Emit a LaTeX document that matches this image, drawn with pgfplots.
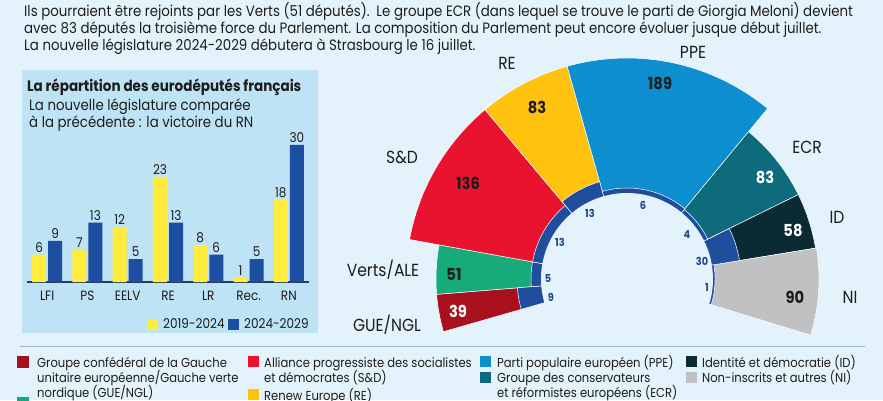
\documentclass[border=0pt]{standalone}
\usepackage{fontspec}
\setmainfont{Poppins}[FakeStretch=0.89]
\usepackage{pgfplots}
\pgfplotsset{compat=1.18}
\definecolor{bg}{HTML}{E4F3FB}
\definecolor{panel}{HTML}{BEE3F5}
\definecolor{byel}{HTML}{FFEC3D}
\definecolor{bblue}{HTML}{1C4FA0}
\definecolor{gue}{HTML}{A8101E}
\definecolor{sd}{HTML}{E9132F}
\definecolor{re}{HTML}{FFC20F}
\definecolor{ppe}{HTML}{0C8ECF}
\definecolor{ecr}{HTML}{0E6B7B}
\definecolor{idc}{HTML}{0A2B33}
\definecolor{ni}{HTML}{BFC1C3}
\definecolor{verts}{HTML}{17AA7B}
\definecolor{fr}{HTML}{1F4E9F}
\definecolor{txt}{HTML}{1D1D1B}
\definecolor{frtxt}{HTML}{1E4A8A}
\definecolor{axc}{HTML}{2B3A55}
\definecolor{rule}{HTML}{9DB6C6}
\newcommand{\fs}[1]{\fontsize{#1bp}{#1bp}\selectfont}
% sector: #1 seats before, #2 seats, #3 radius, #4 colour
\newcommand{\sector}[4]{%
  \pgfmathsetmacro\aS{196-0.29218*(#1)}%
  \pgfmathsetmacro\aE{196-0.29218*(#1+#2)}%
  \edef\tmp{\noexpand\addplot[fill=#4, draw=white, line width=0.5bp, domain=\aE:\aS, samples=40] ({(#3)*cos(x)},{(#3)*sin(x)}) -- (0,0) -- cycle;}%
  \tmp}
\begin{document}
\begin{tikzpicture}[x=1bp, y=-1bp]
\useasboundingbox (0,0) rectangle (883,400);
\clip (0,0) rectangle (883,400);
\fill[bg] (0,0) rectangle (883,400);
% top text
\begin{scope}[every node/.style={anchor=base west, inner sep=0, font=\fs{15}, text=txt}]
\node at (24,16) {Ils pourraient être rejoints par les Verts (51 députés).\hspace{2bp} Le groupe ECR (dans lequel se trouve le parti de Giorgia Meloni) devient};
\node at (24,33) {avec 83 députés la troisième force du Parlement. La composition du Parlement peut encore évoluer jusque début juillet.};
\node at (24,50) {La nouvelle législature 2024-2029 débutera à Strasbourg le 16 juillet.};
\end{scope}
% panel
\fill[panel] (22,70) rectangle (318,333);
\node[anchor=base west, inner sep=0, font=\fs{15.2}\bfseries, text=txt] at (27,91) {La répartition des eurodéputés français};
\node[anchor=base west, inner sep=0, font=\fs{15}, text=txt] at (29,110) {La nouvelle législature comparée};
\node[anchor=base west, inner sep=0, font=\fs{15}, text=txt] at (29,127) {à la précédente : la victoire du RN};
\begin{axis}[at={(27bp,-282bp)}, anchor=south west, scale only axis, width=282bp, height=137.1bp,
  xmin=-0.5, xmax=6.5, ymin=0, ymax=30, enlargelimits=false, clip=false,
  ybar=2bp, bar width=14bp,
  axis y line=none, axis x line*=bottom,
  x axis line style={color=axc, line width=1.4bp},
  xtick={0,...,6}, xticklabels={LFI,PS,EELV,RE,LR,Rec.,RN},
  xtick style={draw=none},
  xticklabel style={font=\fs{13.5}, text=txt, yshift=-1bp},
  /pgf/number format/assume math mode=true,
  nodes near coords, nodes near coords style={font=\fs{13.5}, text=txt, inner sep=2bp},
]
\addplot[fill=byel, draw=none] coordinates {(0,6) (1,7) (2,12) (3,23) (4,8) (5,1) (6,18)};
\addplot[fill=bblue, draw=none] coordinates {(0,9) (1,13) (2,5) (3,13) (4,6) (5,5) (6,30)};
\end{axis}
\fill[byel] (147,319) rectangle (158,330);
\node[anchor=base west, inner sep=0, font=\fs{13.5}, text=txt] at (163,328) {2019-2024};
\fill[bblue] (228,319) rectangle (239,330);
\node[anchor=base west, inner sep=0, font=\fs{13.5}, text=txt] at (244,328) {2024-2029};
% hemicycle
\begin{axis}[at={(627bp,-279bp)}, anchor=origin, x=1bp, y=1bp, hide axis,
  xmin=-230, xmax=230, ymin=-80, ymax=230, clip=false]
\sector{0}{39}{191}{gue}
\sector{39}{51}{191}{verts}
\sector{90}{136}{221}{sd}
\sector{226}{83}{221}{re}
\sector{309}{189}{221}{ppe}
\sector{498}{83}{191}{ecr}
\sector{581}{58}{191}{idc}
\sector{639}{90}{192}{ni}
\sector{0}{39}{86+24}{fr}
\sector{39}{51}{86+10}{fr}
\sector{90}{136}{86+10}{fr}
\sector{226}{83}{86+15}{fr}
\sector{309}{189}{86+5}{fr}
\sector{498}{83}{86+4}{fr}
\sector{581}{58}{86+28}{fr}
\sector{639}{90}{86+2}{fr}
\addplot[fill=bg, draw=none, domain=0:360, samples=120] ({86*cos(x)},{86*sin(x)}) -- cycle;
\end{axis}
% group names
\begin{scope}[every node/.style={anchor=center, inner sep=0, font=\fs{17.5}, text=txt}]
\node at (507,63) {RE};
\node at (693,52) {PPE};
\node at (402,157) {S\&D};
\node at (383,270) {Verts/ALE};
\node at (387,325) {GUE/NGL};
\node at (807,147) {ECR};
\node at (837,217) {ID};
\node at (850,297) {NI};
\end{scope}
\begin{scope}[every node/.style={anchor=center, inner sep=0, font=\fs{16.5}\bfseries, text=txt}]
\node at (660,83) {189};
\node at (537,107) {83};
\node at (468,183) {136};
\node at (454,274) {51};
\node[text=white] at (458,311) {39};
\node[text=white] at (765,177) {83};
\node[text=white] at (793,230) {58};
\node at (795,297) {90};
\end{scope}
\begin{scope}[every node/.style={anchor=center, inner sep=0, font=\fs{11}\bfseries, text=frtxt}]
\node at (590,213) {13};
\node at (560,242) {13};
\node at (548,278) {5};
\node at (551,297) {9};
\node at (643,205) {6};
\node at (687,235) {4};
\node at (702,261) {30};
\node at (707,287) {1};
\end{scope}
% bottom legend
\draw[rule, line width=1bp] (20,346) -- (865,346);
\begin{scope}[every node/.style={anchor=base west, inner sep=0, font=\fs{13}, text=txt}]
\fill[gue] (17,356) rectangle (29,368);
\node at (37,367) {Groupe confédéral de la Gauche};
\node at (37,382) {unitaire européenne/Gauche verte};
\node at (37,397) {nordique (GUE/NGL)};
\fill[verts] (17,397) rectangle (29,409);
\fill[sd] (248,356) rectangle (259,367);
\node at (264,367) {Alliance progressiste des socialistes};
\node at (264,382) {et démocrates (S\&D)};
\fill[re] (248,389) rectangle (259,400);
\node at (264,400) {Renew Europe (RE)};
\fill[ppe] (480,356) rectangle (491,367);
\node at (497,367) {Parti populaire européen (PPE)};
\fill[ecr] (480,372) rectangle (491,383);
\node at (497,382) {Groupe des conservateurs};
\node at (497,397) {et réformistes européens (ECR)};
\fill[idc] (686,356) rectangle (697,367);
\node at (702,367) {Identité et démocratie (ID)};
\fill[ni] (686,372) rectangle (697,383);
\node at (702,382) {Non-inscrits et autres (NI)};
\end{scope}
\end{tikzpicture}
\end{document}
